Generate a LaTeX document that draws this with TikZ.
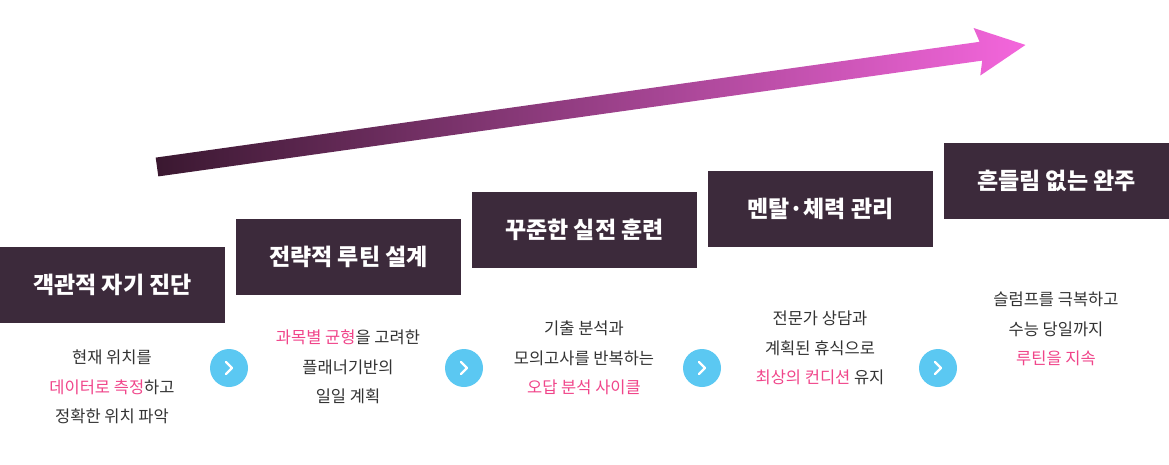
\documentclass[tikz,border=0pt]{standalone}
\usepackage{fontspec}
\setmainfont{Noto Sans CJK KR}
\begin{document}
\begin{tikzpicture}[x=1pt,y=1pt,
 box/.style={fill=boxc,text=white,minimum width=225pt,minimum height=76pt,inner sep=0pt,font=\bfseries\fontsize{23}{26}\selectfont},
 txt/.style={align=center,text=txtc,font=\fontsize{16.5}{29.5}\selectfont},
 circ/.style={circle,fill=cc,minimum size=38pt,inner sep=0pt}]
\definecolor{boxc}{HTML}{3C2A3B}
\definecolor{txtc}{HTML}{333333}
\definecolor{pk}{HTML}{F0458A}
\definecolor{cc}{HTML}{5BC8F2}
\definecolor{a1}{HTML}{3A1830}
\definecolor{a2}{HTML}{F466DC}
\useasboundingbox (0,0) rectangle (1169,-464);
\begin{scope}[shift={(157,-167)},rotate=8]
\shade[left color=a1,right color=a2] (0,-9.5) -- (832,-9.5) -- (828,-24) -- (877,0) -- (828,24) -- (832,9.5) -- (0,9.5) -- cycle;
\end{scope}
\node[box] (b1) at (112.5,-285) {객관적 자기 진단};
\node[box] (b2) at (348.5,-257) {전략적 루틴 설계};
\node[box] (b3) at (584.5,-230) {꾸준한 실전 훈련};
\node[box] (b4) at (820.5,-209) {멘탈·체력 관리};
\node[box] (b5) at (1056.5,-181) {흔들림 없는 완주};
\node[txt] (t1) at (112,-387) {현재 위치를\\\textcolor{pk}{데이터로 측정}하고\\정확한 위치 파악};
\node[txt] (t2) at (348,-367) {\textcolor{pk}{과목별 균형}을 고려한\\플래너기반의\\일일 계획};
\node[txt] (t3) at (584,-358) {기출 분석과\\모의고사를 반복하는\\\textcolor{pk}{오답 분석 사이클}};
\node[txt] (t4) at (820,-348) {전문가 상담과\\계획된 휴식으로\\\textcolor{pk}{최상의 컨디션} 유지};
\node[txt] (t5) at (1056,-329) {슬럼프를 극복하고\\수능 당일까지\\\textcolor{pk}{루틴을 지속}};
\foreach \n/\x in {c1/229,c2/464,c3/702,c4/938}{
 \node[circ] (\n) at (\x,-368) {};
 \draw[white,line width=2.2pt,line cap=round,line join=round] (\x-3,-362) -- (\x+3,-368) -- (\x-3,-374);
}
\end{tikzpicture}
\end{document}
